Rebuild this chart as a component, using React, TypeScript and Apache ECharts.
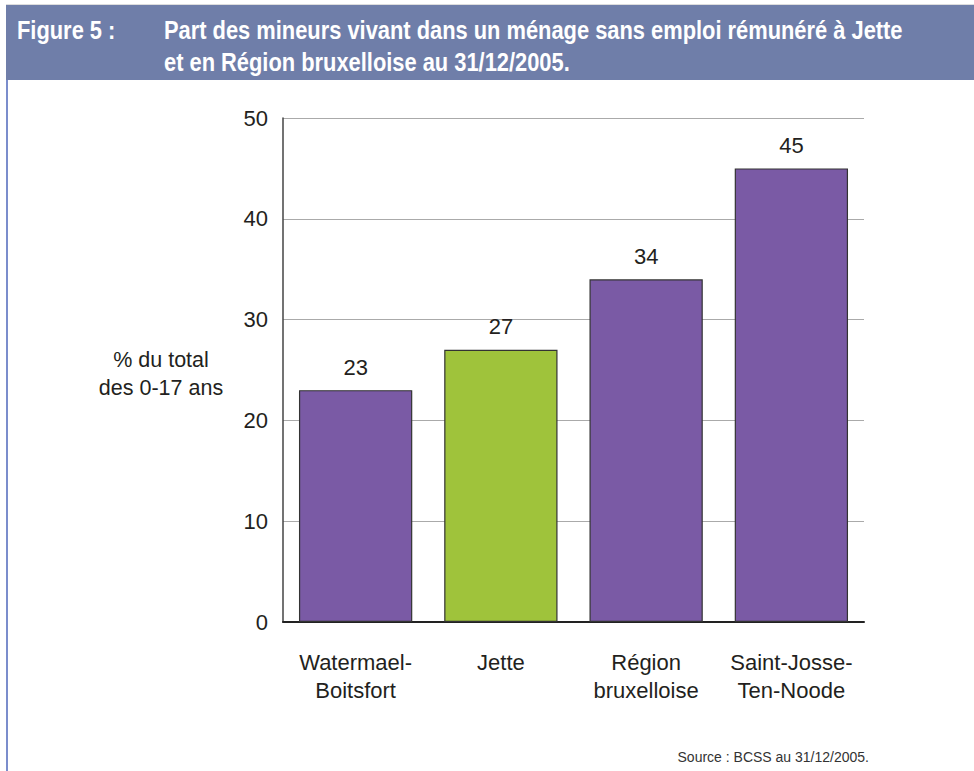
import React, { useEffect, useRef } from "react";
import * as echarts from "echarts";

const categories = ["Watermael-\nBoitsfort", "Jette", "Région\nbruxelloise", "Saint-Josse-\nTen-Noode"];
const values = [23, 27, 34, 45];
const barColors = ["#7a5aa5", "#9fc33b", "#7a5aa5", "#7a5aa5"];
const yTicks = [0, 10, 20, 30, 40, 50];
const titleLabel = "Figure 5 :";
const titleLines = [
  "Part des mineurs vivant dans un ménage sans emploi rémunéré à Jette",
  "et en Région bruxelloise au 31/12/2005.",
];
const yAxisName = "% du total\ndes 0-17 ans";
const sourceText = "Source : BCSS au 31/12/2005.";

const FONT = "'Liberation Sans', Arial, sans-serif";
const TFONT = `bold 25px 'Liberation Sans', Arial, sans-serif`;
const TSCALE = 0.875;

export default function App() {
  const ref = useRef<HTMLDivElement>(null);
  useEffect(() => {
    if (!ref.current) return;
    const chart = echarts.init(ref.current, undefined, { renderer: "svg" });
    chart.setOption({
      animation: false,
      backgroundColor: "#ffffff",
      grid: { left: 283, top: 118, right: 110, bottom: 149, containLabel: false },
      xAxis: {
        type: "category",
        data: categories,
        axisLine: { show: true, lineStyle: { color: "#222", width: 2 } },
        axisTick: { show: false },
        axisLabel: {
          color: "#231f20",
          fontFamily: FONT,
          fontSize: 22,
          lineHeight: 28,
          margin: 26,
          interval: 0,
        },
      },
      yAxis: {
        type: "value",
        min: yTicks[0],
        max: yTicks[yTicks.length - 1],
        interval: 10,
        axisLine: { show: true, lineStyle: { color: "#444", width: 1.5 } },
        axisTick: { show: false },
        splitLine: { show: true, lineStyle: { color: "#aaaaaa", width: 1 } },
        axisLabel: { color: "#231f20", fontFamily: FONT, fontSize: 22, margin: 15 },
      },
      series: [
        {
          type: "bar",
          data: values.map((v, i) => ({
            value: v,
            itemStyle: { color: barColors[i], borderColor: "#333", borderWidth: 1.2 },
          })),
          barCategoryGap: "22%",
          label: {
            show: true,
            position: "top",
            distance: 12,
            color: "#231f20",
            fontFamily: FONT,
            fontSize: 22,
          },
        },
      ],
      graphic: [
        { type: "rect", shape: { x: 0, y: 0, width: 974, height: 5 }, style: { fill: "#ffffff" } },
        { type: "line", shape: { x1: 6, y1: 4.5, x2: 974, y2: 4.5 }, style: { stroke: "#dddddd", lineWidth: 1 } },
        { type: "rect", shape: { x: 6, y: 5, width: 968, height: 75 }, style: { fill: "#6f7ea9" } },
        { type: "rect", shape: { x: 6, y: 80, width: 2, height: 691 }, style: { fill: "#7b8dcc" } },
        {
          type: "text",
          x: 17,
          y: 30,
          scaleX: TSCALE,
          style: { text: titleLabel, fill: "#ffffff", font: TFONT, verticalAlign: "middle" },
        },
        {
          type: "text",
          x: 164,
          y: 30,
          scaleX: TSCALE,
          style: { text: titleLines[0], fill: "#ffffff", font: TFONT, verticalAlign: "middle" },
        },
        {
          type: "text",
          x: 164,
          y: 62,
          scaleX: TSCALE,
          style: { text: titleLines[1], fill: "#ffffff", font: TFONT, verticalAlign: "middle" },
        },
        {
          type: "text",
          x: 161,
          y: 374,
          style: {
            text: yAxisName,
            fill: "#231f20",
            font: `21.5px ${FONT}`,
            align: "center",
            verticalAlign: "middle",
            lineHeight: 28,
          },
        },
        {
          type: "text",
          x: 869,
          y: 757,
          style: {
            text: sourceText,
            fill: "#333333",
            font: `14px ${FONT}`,
            align: "right",
            verticalAlign: "middle",
          },
        },
      ],
    });
    return () => chart.dispose();
  }, []);
  return (
    <div
      ref={ref}
      style={{ position: "absolute", left: 0, top: 0, width: 974, height: 771 }}
    />
  );
}
